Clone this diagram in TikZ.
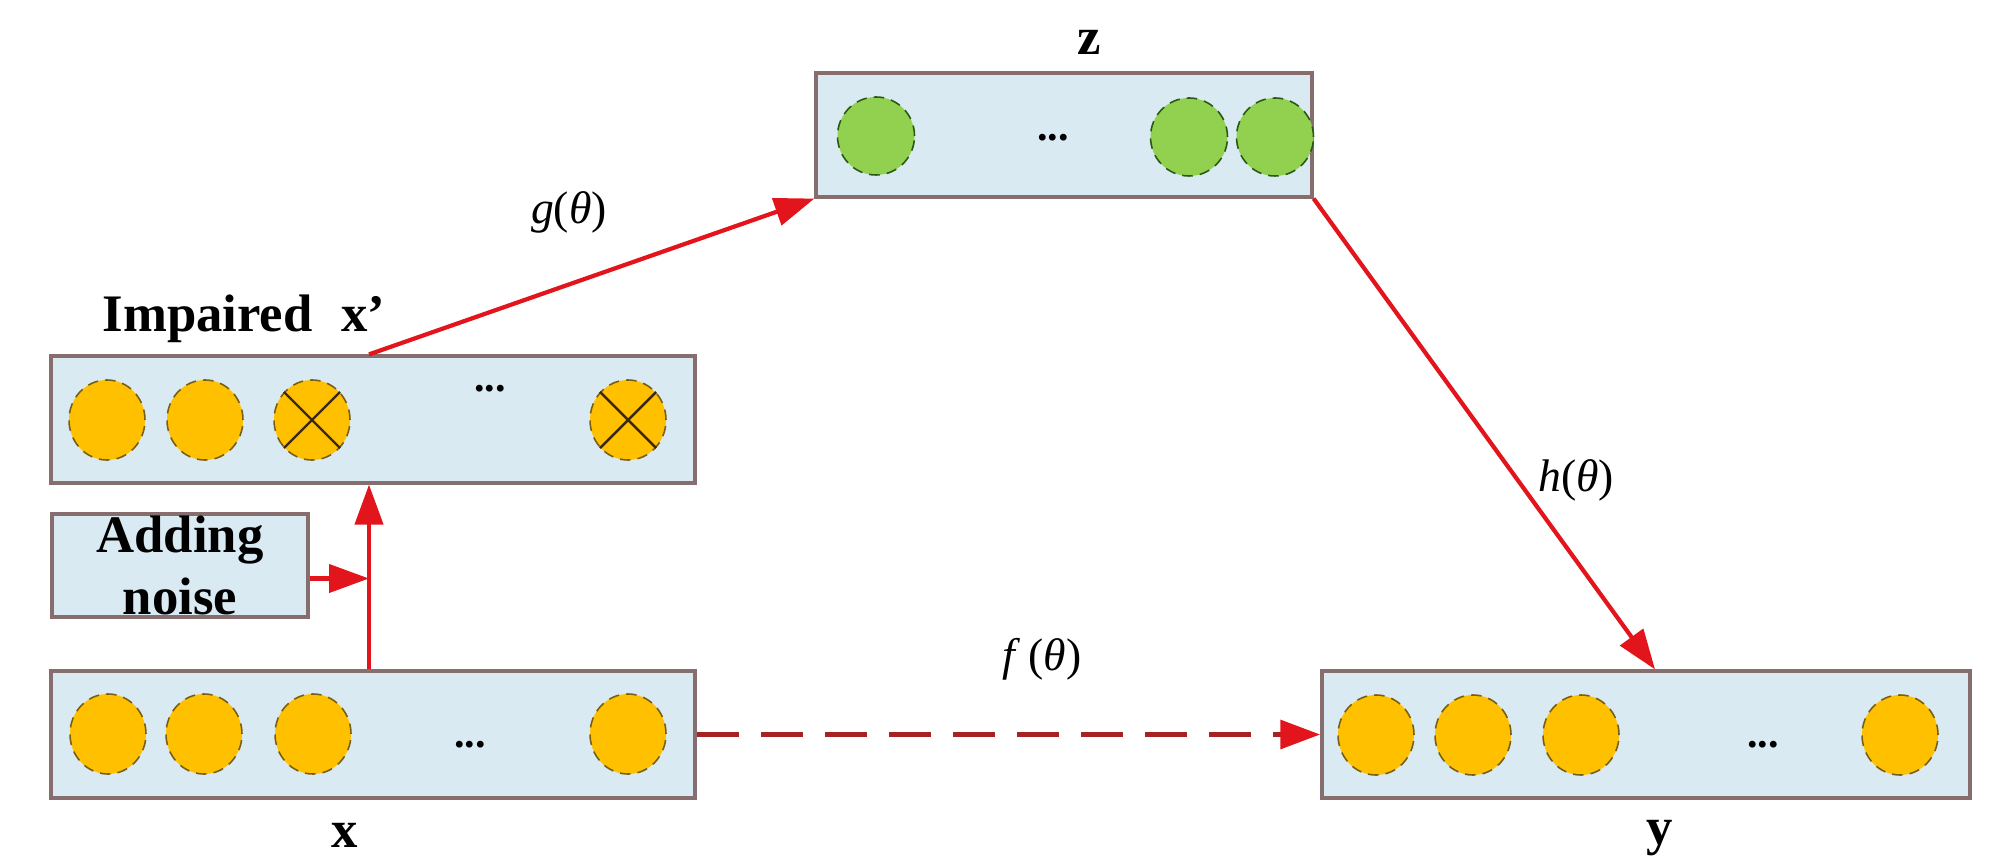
\documentclass[tikz,border=0pt]{standalone}
\usepackage{fontspec}
\setmainfont{Liberation Serif}
\usetikzlibrary{arrows.meta,shapes.geometric,calc}
\definecolor{boxfill}{RGB}{218,234,242}
\definecolor{boxline}{RGB}{135,110,110}
\definecolor{unitorange}{RGB}{255,192,0}
\definecolor{unitorangeline}{RGB}{120,95,20}
\definecolor{unitgreen}{RGB}{146,208,80}
\definecolor{unitgreenline}{RGB}{40,90,20}
\definecolor{arrowred}{RGB}{226,20,28}
\definecolor{dashred}{RGB}{165,35,35}
\definecolor{crossdark}{RGB}{60,40,15}
\begin{document}
\begin{tikzpicture}[x=0.1mm,y=-0.1mm,
  layer/.style={draw=boxline, fill=boxfill, line width=0.9pt, rectangle, inner sep=0pt},
  ounit/.style={ellipse, draw=unitorangeline, fill=unitorange, densely dashed, line width=0.45pt, minimum width=7.6mm, minimum height=8mm, inner sep=0pt},
  gunit/.style={ellipse, draw=unitgreenline, fill=unitgreen, densely dashed, line width=0.45pt, minimum width=7.7mm, minimum height=7.8mm, inner sep=0pt},
  crossline/.style={draw=crossdark, line width=0.7pt},
  dotsnode/.style={font=\fontsize{12}{12}\selectfont\bfseries, inner sep=0pt},
  title/.style={font=\fontsize{15}{17.5}\selectfont\bfseries, inner sep=0pt},
  fun/.style={font=\fontsize{13}{13}\selectfont, inner sep=0pt},
  flow/.style={draw=arrowred, line width=1.2pt, -{Triangle[length=4mm,width=2.8mm]}},
  dashflow/.style={draw=dashred, line width=1.7pt, dash pattern=on 4.2mm off 2.2mm, -{Triangle[length=4mm,width=2.8mm,color=arrowred]}}
]
\useasboundingbox (0,0) rectangle (1997,863);

% layers
\node[layer, minimum width=64.4mm, minimum height=12.7mm] (imp) at (373,419.5) {};
\node[layer, minimum width=25.6mm, minimum height=10.3mm, title, align=center] (noise) at (180,565.5) {Adding\\noise};
\node[layer, minimum width=64.4mm, minimum height=12.7mm] (xbox) at (373,734.5) {};
\node[layer, minimum width=49.6mm, minimum height=12.4mm] (zbox) at (1064,135) {};
\node[layer, minimum width=64.8mm, minimum height=12.7mm] (ybox) at (1646,734.5) {};

% impaired units
\node[ounit] (i1) at (107,420) {};
\node[ounit] (i2) at (205,420) {};
\node[ounit] (i3) at (312,420) {};
\node[ounit] (i4) at (628,420) {};
\draw[crossline] (i3.135) -- (i3.-45) (i3.45) -- (i3.-135);
\draw[crossline] (i4.135) -- (i4.-45) (i4.45) -- (i4.-135);
\node[dotsnode] (idots) at (490,389) {...};

% x units
\node[ounit] (x1) at (108,734) {};
\node[ounit] (x2) at (204,734) {};
\node[ounit] (x3) at (313,734) {};
\node[ounit] (x4) at (628,734) {};
\node[dotsnode] (xdots) at (470,745) {...};

% y units
\node[ounit] (y1) at (1376,735) {};
\node[ounit] (y2) at (1473,735) {};
\node[ounit] (y3) at (1581,735) {};
\node[ounit] (y4) at (1900,735) {};
\node[dotsnode] (ydots) at (1763,745) {...};

% z units
\node[gunit] (z1) at (876,136) {};
\node[gunit] (z2) at (1189,137) {};
\node[gunit] (z3) at (1275,137) {};
\node[dotsnode] (zdots) at (1053,138) {...};

% labels
\node[title, anchor=base west] (implabel) at (102,332) {Impaired\hspace{0.55em}x’};
\node[title] (xlabel) at (345,835) {x};
\node[title] (ylabel) at (1660,838) {y};
\node[title] (zlabel) at (1089,42) {z};
\node[fun] (glabel) at (569,212) {\textit{g}(\textit{θ})};
\node[fun] (hlabel) at (1576,480) {\textit{h}(\textit{θ})};
\node[fun] (flabel) at (1042,659) {\textit{f}\,(\textit{θ})};

% connectors
\coordinate (j) at (369,579);
\draw[flow] (xbox.north -| j) -- (imp.south -| j);
\draw[flow] ([yshift=-1.3mm]noise.east) -- ([yshift=-1.3mm]noise.east -| j);
\draw[flow] (imp.north -| j) -- (zbox.south west);
\draw[flow] (zbox.south east) -- ([xshift=0.9mm]ybox.north);
\draw[dashflow] (xbox.east) -- (ybox.west);
\end{tikzpicture}
\end{document}
